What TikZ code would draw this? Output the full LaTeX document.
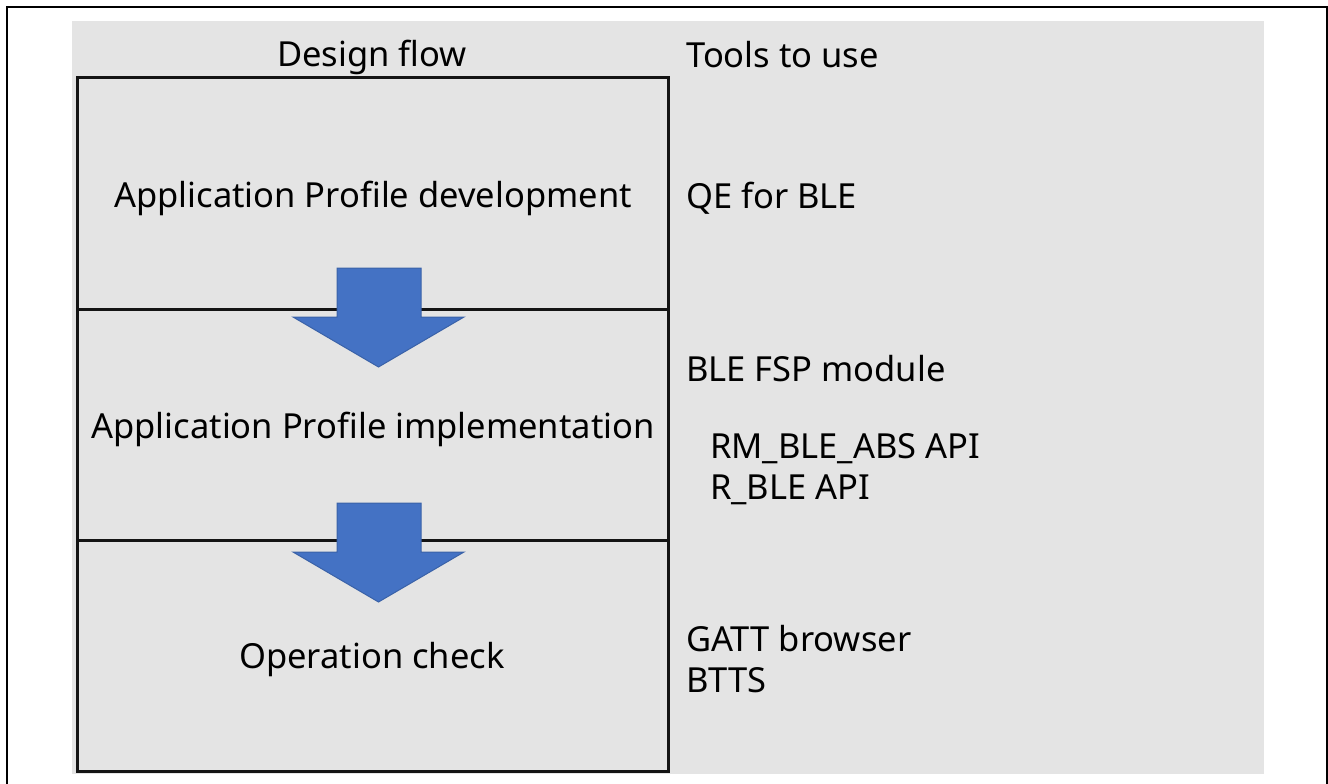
\documentclass[tikz,border=0pt]{standalone}
\usepackage{fontspec}
\setmainfont{Noto Sans}
\usepackage{tikz}
\usepackage{xcolor}

\definecolor{panelgrey}{HTML}{E4E4E4}
\definecolor{arrowblue}{HTML}{4472C4}
\definecolor{arrowedge}{HTML}{3A62A8}

\begin{document}
\begin{tikzpicture}[
            x = 1pt, y = -1pt, % one unit per pixel, y downward
            stage/.style = {draw=black!92, line width=3pt, minimum width=591pt,
                            minimum height=231pt, inner sep=0pt},
            title/.style = {font=\fontsize{34.5}{40}\selectfont, inner sep=0pt},
            tool/.style = {font=\fontsize{34.5}{41}\selectfont, inner sep=0pt,
                           anchor=west, align=left},
            flowarrow/.style = {fill=arrowblue, draw=arrowedge, line width=1pt}
        ]
\useasboundingbox (0,0) rectangle (1328,784);

% outer frame, open at the bottom
\draw[line width=2pt] (7,784) -- (7,7.5) -- (1326.5,7.5) -- (1326.5,784);

% grey panel
\fill[panelgrey] (72,21) rectangle (1264,774);

% design flow column
\node[stage] (dev) at (372.5,193.5) {};
\node[stage] (impl) at (372.5,424.5) {};
\node[stage] (check) at (372.5,655.5) {};

\node[title] (flowhead) at (372,57) {Design flow};
\node[title] (devtext) at (373,198) {Application Profile development};
\node[title] (impltext) at (373,429) {Application Profile implementation};
\node[title] (checktext) at (372,660) {Operation check};

% block arrows between stages
\draw[flowarrow] (337,268) -- (421,268) -- (421,317) -- (464,317) -- (378.5,367)
    -- (293,317) -- (337,317) -- cycle;
\draw[flowarrow] (337,503) -- (421,503) -- (421,552) -- (464,552) -- (378.5,602)
    -- (293,552) -- (337,552) -- cycle;

% tools column
\node[tool] (toolhead) at (686,55) {Tools to use};
\node[tool] (qe) at (686,198) {QE for BLE};
\node[tool] (fsp) at (686,369) {BLE FSP module};
\node[tool] (api) at (710,469) {RM\_BLE\_ABS API\\R\_BLE API};
\node[tool] (gatt) at (686,659) {GATT browser\\BTTS};
\end{tikzpicture}
\end{document}
